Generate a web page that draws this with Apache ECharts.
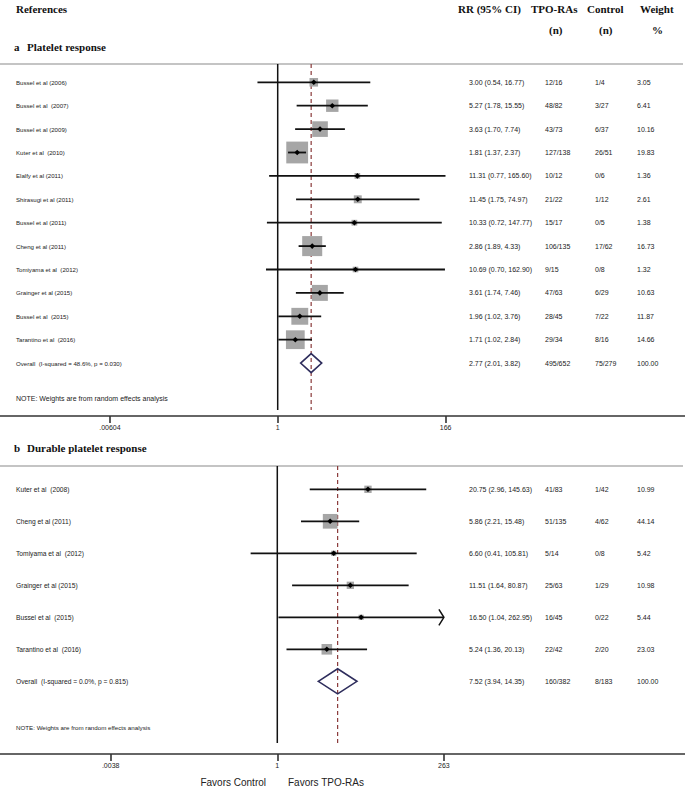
<!DOCTYPE html>
<html><head><meta charset="utf-8">
<script src="https://cdn.jsdelivr.net/npm/echarts@6/dist/echarts.min.js"></script>
<style>html,body{margin:0;padding:0;background:#fff}#c{width:685px;height:788px}</style>
</head><body><div id="c"></div>
<script>
// ---------- Panel a: Platelet response ----------
const studiesA = ['Bussel et al (2006)', 'Bussel et al  (2007)', 'Bussel et al (2009)', 'Kuter et al  (2010)', 'Elalfy et al (2011)', 'Shirasugi et al (2011)', 'Bussel et al (2011)', 'Cheng et al (2011)', 'Tomiyama et al  (2012)', 'Grainger et al (2015)', 'Bussel et al  (2015)', 'Tarantino et al  (2016)'];
const rrA = [3.00, 5.27, 3.63, 1.81, 11.31, 11.45, 10.33, 2.86, 10.69, 3.61, 1.96, 1.71];
const lowA = [0.54, 1.78, 1.70, 1.37, 0.77, 1.75, 0.72, 1.89, 0.70, 1.74, 1.02, 1.02];
const highA = [16.77, 15.55, 7.74, 2.37, 165.60, 74.97, 147.77, 4.33, 162.90, 7.46, 3.76, 2.84];
const tpoA = ['12/16', '48/82', '43/73', '127/138', '10/12', '21/22', '15/17', '106/135', '9/15', '47/63', '28/45', '29/34'];
const ctrlA = ['1/4', '3/27', '6/37', '26/51', '0/6', '1/12', '0/5', '17/62', '0/8', '6/29', '7/22', '8/16'];
const weightA = [3.05, 6.41, 10.16, 19.83, 1.36, 2.61, 1.38, 16.73, 1.32, 10.63, 11.87, 14.66];
const arrowA = [false, false, false, false, false, false, false, false, false, false, false, false];
const overallA = {label: 'Overall  (I-squared = 48.6%, p = 0.030)', rr: 2.77, low: 2.01, high: 3.82, tpo: '495/652', ctrl: '75/279', weight: 100.00};
const ticksA = [0.00604, 1, 166];
const tickLabelsA = ['.00604', '1', '166'];

// ---------- Panel b: Durable platelet response ----------
const studiesB = ['Kuter et al  (2008)', 'Cheng et al (2011)', 'Tomiyama et al  (2012)', 'Grainger et al (2015)', 'Bussel et al  (2015)', 'Tarantino et al  (2016)'];
const rrB = [20.75, 5.86, 6.60, 11.51, 16.50, 5.24];
const lowB = [2.96, 2.21, 0.41, 1.64, 1.04, 1.36];
const highB = [145.63, 15.48, 105.81, 80.87, 262.95, 20.13];
const tpoB = ['41/83', '51/135', '5/14', '25/63', '16/45', '22/42'];
const ctrlB = ['1/42', '4/62', '0/8', '1/29', '0/22', '2/20'];
const weightB = [10.99, 44.14, 5.42, 10.98, 5.44, 23.03];
const arrowB = [false, false, false, false, true, false];
const overallB = {label: 'Overall  (I-squared = 0.0%, p = 0.815)', rr: 7.52, low: 3.94, high: 14.35, tpo: '160/382', ctrl: '8/183', weight: 100.00};
const ticksB = [0.0038, 1, 263];
const tickLabelsB = ['.0038', '1', '263'];

// ---------- layout ----------
const W = 685;
const SANS = '"Liberation Sans", Arial, sans-serif';
const SERIF = '"Liberation Serif", "Times New Roman", serif';
const COL = {label: 16, rr: 469, tpo: 545, ctrl: 595, weight: 637};
const PA = {top: 64, bottom: 416, nullX: 277.7, scale: 32.84, row0: 82.3, rowH: 23.4, lineEnd: 410, diamondH: 19, boxK: 4.9, labelPx: 6.1};
const PB = {top: 466, bottom: 754, nullX: 277.3, scale: 29.9, row0: 489.3, rowH: 32.0, lineEnd: 743, diamondH: 25, boxK: 2.21, labelPx: 6.7};

function fmt2(v) { return v.toFixed(2); }
function rrText(r, l, h) { return fmt2(r) + ' (' + fmt2(l) + ', ' + fmt2(h) + ')'; }
function txt(x, y, s, font, fill) {
  return {type: 'text', style: {x: x, y: y, text: s, font: font, fill: fill || '#222', align: 'left', verticalAlign: 'middle'}};
}

function studyRenderer(P, labels, rr, lo, hi, tpo, ctrl, wt) {
  return function (params, api) {
    const i = params.dataIndex;
    const c = api.coord([api.value(0), api.value(1)]);
    const xl = api.coord([api.value(2), api.value(1)])[0];
    const xh = api.coord([api.value(3), api.value(1)])[0];
    const y = c[1], xc = c[0];
    const s = P.boxK * Math.sqrt(api.value(4));
    const f = '7px ' + SANS;
    const fl = P.labelPx + 'px ' + SANS;
    const ch = [
      {type: 'rect', shape: {x: xc - s / 2, y: y - s / 2, width: s, height: s}, style: {fill: '#a6a6a6'}},
      {type: 'line', shape: {x1: xl, y1: y, x2: xh, y2: y}, style: {stroke: '#111', lineWidth: 1.8}},
      {type: 'polygon', shape: {points: [[xc - 2.8, y], [xc, y - 2.8], [xc + 2.8, y], [xc, y + 2.8]]}, style: {fill: '#000'}},
      txt(COL.label, y, labels[i], fl),
      txt(COL.rr, y, rrText(rr[i], lo[i], hi[i]), f),
      txt(COL.tpo, y, tpo[i], f),
      txt(COL.ctrl, y, ctrl[i], f),
      txt(COL.weight, y, fmt2(wt[i]), f)
    ];
    if (api.value(5) === 1) {
      ch.push({type: 'polyline', shape: {points: [[xh - 5, y - 8], [xh, y], [xh - 5, y + 8]]}, style: {stroke: '#111', lineWidth: 1.5, fill: null}});
    }
    return {type: 'group', children: ch};
  };
}

function overallRenderer(P, o) {
  return function (params, api) {
    const c = api.coord([api.value(0), api.value(1)]);
    const xl = api.coord([api.value(2), api.value(1)])[0];
    const xh = api.coord([api.value(3), api.value(1)])[0];
    const y = c[1], xc = c[0], h = P.diamondH / 2;
    const f = '7px ' + SANS;
    const fl = P.labelPx + 'px ' + SANS;
    return {type: 'group', children: [
      {type: 'polygon', shape: {points: [[xl, y], [xc, y - h], [xh, y], [xc, y + h]]}, style: {stroke: '#2e2d5c', lineWidth: 1.6, fill: null}},
      txt(COL.label, y, o.label, fl),
      txt(COL.rr, y, rrText(o.rr, o.low, o.high), f),
      txt(COL.tpo, y, o.tpo, f),
      txt(COL.ctrl, y, o.ctrl, f),
      txt(COL.weight, y, fmt2(o.weight), f)
    ]};
  };
}

function refRenderer(P, overallRR) {
  return function (params, api) {
    const yTop = -(P.row0 - P.top) / P.rowH;
    const yEnd = (P.lineEnd - P.row0) / P.rowH;
    const a = api.coord([0, yTop]), b = api.coord([0, yEnd]);
    const d1 = api.coord([Math.log(overallRR), yTop]), d2 = api.coord([Math.log(overallRR), yEnd]);
    return {type: 'group', children: [
      {type: 'line', shape: {x1: a[0], y1: a[1], x2: b[0], y2: b[1]}, style: {stroke: '#111', lineWidth: 1.5}},
      {type: 'line', shape: {x1: d1[0], y1: d1[1], x2: d2[0], y2: d2[1]}, style: {stroke: '#8a3a3a', lineWidth: 1.2, lineDash: [4, 3]}}
    ]};
  };
}

function xAxisFor(P, gi, ticks, labels) {
  const tv = ticks.map(Math.log);
  return {
    gridIndex: gi, type: 'value', min: -P.nullX / P.scale, max: (W - P.nullX) / P.scale,
    axisLine: {show: true, onZero: false, lineStyle: {color: '#333', width: 1.6}},
    axisTick: {show: true, customValues: tv, length: 7, inside: false, lineStyle: {color: '#333', width: 1.6}},
    axisLabel: {show: true, customValues: tv, margin: 8, fontSize: 7, color: '#222', fontFamily: SANS,
      formatter: function (v) { let k = 0, best = 1e9; tv.forEach((t, j) => { if (Math.abs(t - v) < best) { best = Math.abs(t - v); k = j; } }); return labels[k]; }},
    splitLine: {show: false}
  };
}
function yAxisFor(P, gi) {
  return {gridIndex: gi, type: 'value', inverse: true, min: -(P.row0 - P.top) / P.rowH, max: (P.bottom - P.row0) / P.rowH, show: false};
}

function studyData(rr, lo, hi, wt, arrows) {
  return rr.map((v, i) => [Math.log(v), i, Math.log(lo[i]), Math.log(hi[i]), wt[i], arrows[i] ? 1 : 0]);
}

const headFont = 'bold 11px ' + SERIF;
const titleFont = 'bold 11px ' + SERIF;
function gtext(x, y, s, font, fill, align) {
  return {type: 'text', x: x, y: y, style: {text: s, font: font, fill: fill || '#111', align: align || 'left', verticalAlign: 'middle'}};
}

const option = {
  animation: false,
  backgroundColor: '#fff',
  grid: [
    {left: 0, right: 0, top: PA.top, height: PA.bottom - PA.top, containLabel: false},
    {left: 0, right: 0, top: PB.top, height: PB.bottom - PB.top, containLabel: false}
  ],
  xAxis: [xAxisFor(PA, 0, ticksA, tickLabelsA), xAxisFor(PB, 1, ticksB, tickLabelsB)],
  yAxis: [yAxisFor(PA, 0), yAxisFor(PB, 1)],
  series: [
    {type: 'custom', xAxisIndex: 0, yAxisIndex: 0, data: [[0]], renderItem: refRenderer(PA, overallA.rr), z: 1},
    {type: 'custom', xAxisIndex: 0, yAxisIndex: 0, data: studyData(rrA, lowA, highA, weightA, arrowA), renderItem: studyRenderer(PA, studiesA, rrA, lowA, highA, tpoA, ctrlA, weightA), z: 2},
    {type: 'custom', xAxisIndex: 0, yAxisIndex: 0, data: [[Math.log(overallA.rr), rrA.length, Math.log(overallA.low), Math.log(overallA.high)]], renderItem: overallRenderer(PA, overallA), z: 3},
    {type: 'custom', xAxisIndex: 1, yAxisIndex: 1, data: [[0]], renderItem: refRenderer(PB, overallB.rr), z: 1},
    {type: 'custom', xAxisIndex: 1, yAxisIndex: 1, data: studyData(rrB, lowB, highB, weightB, arrowB), renderItem: studyRenderer(PB, studiesB, rrB, lowB, highB, tpoB, ctrlB, weightB), z: 2},
    {type: 'custom', xAxisIndex: 1, yAxisIndex: 1, data: [[Math.log(overallB.rr), rrB.length, Math.log(overallB.low), Math.log(overallB.high)]], renderItem: overallRenderer(PB, overallB), z: 3}
  ],
  graphic: [
    gtext(16, 9, 'References', headFont),
    gtext(458, 9, 'RR (95% CI)', headFont),
    gtext(531, 9, 'TPO-RAs', headFont),
    gtext(587, 9, 'Control', headFont),
    gtext(640, 9, 'Weight', headFont),
    gtext(549, 30, '(n)', headFont),
    gtext(599, 30, '(n)', headFont),
    gtext(652, 30, '%', headFont),
    gtext(14, 47, 'a', titleFont),
    gtext(27, 47, 'Platelet response', titleFont),
    {type: 'line', shape: {x1: 0, y1: PA.top, x2: 683, y2: PA.top}, style: {stroke: '#c4c4c4', lineWidth: 2}},
    gtext(16, 398, 'NOTE: Weights are from random effects analysis', '7px ' + SANS, '#222'),
    gtext(14, 448, 'b', titleFont),
    gtext(27, 448, 'Durable platelet response', titleFont),
    {type: 'line', shape: {x1: 0, y1: PB.top, x2: 683, y2: PB.top}, style: {stroke: '#c4c4c4', lineWidth: 2}},
    gtext(16, 727, 'NOTE: Weights are from random effects analysis', '6.2px ' + SANS, '#222'),
    gtext(266, 782, 'Favors Control', '10px ' + SANS, '#222', 'right'),
    gtext(288, 782, 'Favors TPO-RAs', '10px ' + SANS, '#222')
  ]
};

const chart = echarts.init(document.getElementById('c'), null, {renderer: 'svg', width: 685, height: 788});
chart.setOption(option);
</script></body></html>
